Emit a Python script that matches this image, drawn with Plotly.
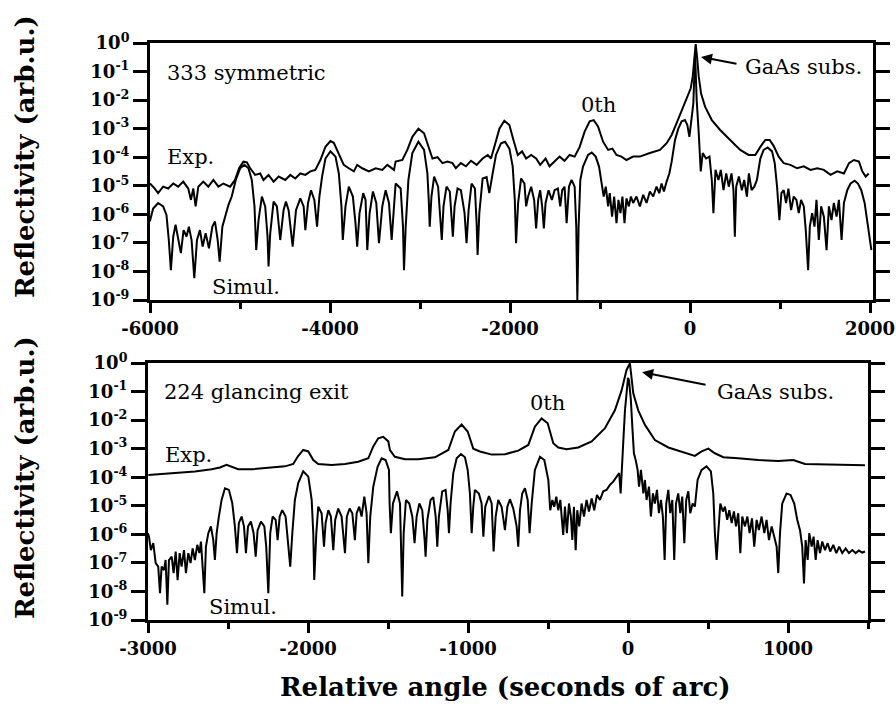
import plotly.graph_objects as go

# ---------------- 333 symmetric reflection ----------------
sym_exp_x = [-6000, -5947, -5910, -5854, -5798, -5742, -5687, -5631, -5575, -5545, -5519, -5493, -5463,
             -5408, -5352, -5296, -5240, -5185, -5110, -5055, -5010, -4962, -4924, -4887, -4832, -4776,
             -4739, -4683, -4627, -4571, -4497, -4441, -4386, -4330, -4274, -4218, -4163, -4107, -4051,
             -3995, -3958, -3910, -3847, -3791, -3735, -3698, -3642, -3568, -3493, -3419, -3363, -3289,
             -3271, -3196, -3141, -3085, -3018, -2955, -2906, -2862, -2806, -2750, -2695, -2639, -2602,
             -2546, -2490, -2434, -2371, -2304, -2248, -2211, -2163, -2118, -2063, -2007, -1962, -1914,
             -1866, -1821, -1765, -1710, -1665, -1605, -1561, -1505, -1449, -1394, -1338, -1282, -1226,
             -1171, -1115, -1070, -1022, -966, -910, -862, -817, -762, -706, -632, -557, -446, -334, -260,
             -204, -149, -93, -37, 8, 30, 48, 63, 78, 97, 123, 167, 242, 335, 446, 558, 651, 725, 781, 836,
             885, 929, 985, 1041, 1115, 1190, 1264, 1338, 1413, 1487, 1561, 1636, 1710, 1766, 1821, 1877,
             1914, 1952, 1985]
sym_exp_y = [1.2e-5, 8e-6, 5.5e-6, 9.3e-6, 8e-6, 1.2e-5, 9.3e-6, 1.4e-5, 8e-6, 3.2e-6, 8e-6, 1.9e-6, 9.3e-6,
             1.4e-5, 9.3e-6, 1.6e-5, 9.3e-6, 1.2e-5, 9.3e-6, 1.6e-5, 4.1e-5, 7e-5, 6.6e-5, 4.1e-5, 2.4e-5,
             2.7e-5, 1.6e-5, 2.4e-5, 1.4e-5, 2.1e-5, 1.6e-5, 2.4e-5, 1.8e-5, 2.7e-5, 2.4e-5, 3.2e-5,
             3.6e-5, 8e-5, 2.3e-4, 3.7e-4, 3.2e-4, 1.4e-4, 5.4e-5, 4.1e-5, 3.2e-5, 5.4e-5, 4.1e-5, 3.2e-5,
             4.1e-5, 3.6e-5, 5.4e-5, 3.6e-5, 7e-5, 8e-5, 1.8e-4, 5.2e-4, 1.0e-3, 6.9e-4, 2.3e-4, 9e-5,
             1e-4, 6.2e-5, 7e-5, 6.2e-5, 4.1e-5, 6.2e-5, 4.8e-5, 7.5e-5, 5.4e-5, 9e-5, 1.2e-4, 9e-5,
             3.1e-4, 1e-3, 1.9e-3, 1.35e-3, 4e-4, 1.2e-4, 1.6e-4, 9e-5, 1.2e-4, 9e-5, 5.4e-5, 9e-5,
             4.8e-5, 7e-5, 1.05e-4, 7.5e-5, 1.2e-4, 1.05e-4, 2.3e-4, 7.9e-4, 1.8e-3, 2e-3, 1.2e-3,
             3.5e-4, 1.8e-4, 2e-4, 1.2e-4, 1.05e-4, 8e-5, 1.05e-4, 1.05e-4, 1.4e-4, 1.8e-4, 3.1e-4,
             6e-4, 1.55e-3, 4.5e-3, 1.15e-2, 2.6e-2, 6.6e-2, 0.33, 0.92, 0.33, 6.6e-2, 1.7e-2, 5.9e-3,
             2e-3, 9e-4, 4e-4, 1.8e-4, 1.2e-4, 1.2e-4, 2.3e-4, 4e-4, 4e-4, 2.5e-4, 1.05e-4, 6.2e-5,
             5.4e-5, 4.1e-5, 4.8e-5, 3.6e-5, 4.1e-5, 3.6e-5, 2.4e-5, 3.2e-5, 2.7e-5, 6.2e-5, 8e-5, 7e-5,
             3.2e-5, 2.1e-5, 2.7e-5]

sym_sim_x = [-6002, -5965, -5910, -5854, -5817, -5791, -5768, -5742, -5716, -5687, -5657, -5627, -5594,
             -5568, -5538, -5508, -5478, -5445, -5415, -5382, -5345, -5307, -5278, -5248, -5226, -5196,
             -5159, -5129, -5092, -5047, -4999, -4951, -4906, -4869, -4839, -4820, -4794, -4757, -4720,
             -4694, -4683, -4664, -4627, -4590, -4553, -4516, -4490, -4460, -4415, -4378, -4330, -4293,
             -4274, -4244, -4211, -4174, -4144, -4118, -4088, -4051, -3995, -3939, -3902, -3873, -3858,
             -3828, -3791, -3746, -3717, -3698, -3672, -3631, -3605, -3586, -3560, -3523, -3486, -3456,
             -3419, -3382, -3345, -3315, -3271, -3215, -3189, -3178, -3159, -3129, -3085, -3018, -2955,
             -2918, -2903, -2892, -2873, -2843, -2799, -2776, -2758, -2739, -2706, -2669, -2650, -2635,
             -2616, -2583, -2546, -2505, -2483, -2460, -2427, -2390, -2371, -2360, -2341, -2304, -2260,
             -2230, -2193, -2156, -2100, -2055, -2007, -1970, -1947, -1933, -1910, -1877, -1840, -1821,
             -1799, -1765, -1732, -1710, -1687, -1665, -1643, -1624, -1605, -1572, -1535, -1505, -1468,
             -1442, -1420, -1394, -1371, -1345, -1316, -1282, -1264, -1252, -1238, -1219, -1189, -1133,
             -1092, -1048, -1011, -985, -959, -936, -910, -892, -866, -843, -817, -795, -773, -751, -728,
             -706, -680, -657, -632, -595, -557, -520, -483, -446, -409, -372, -342, -316, -290, -260,
             -230, -204, -167, -130, -93, -56, -30, -7, 15, 37, 56, 74, 97, 119, 141, 178, 216, 242, 260,
             283, 316, 342, 372, 402, 431, 461, 483, 498, 513, 543, 576, 602, 632, 654, 684, 714, 743,
             781, 818, 863, 911, 941, 967, 993, 1015, 1041, 1067, 1093, 1123, 1152, 1182, 1208, 1234,
             1264, 1286, 1312, 1331, 1357, 1383, 1405, 1431, 1457, 1487, 1517, 1543, 1572, 1598, 1628,
             1654, 1684, 1710, 1747, 1784, 1829, 1866, 1903, 1940, 1970, 1996, 2015]
sym_sim_y = [5.6e-7, 1.6e-6, 2.5e-6, 1.9e-6, 9.5e-7, 1.26e-7, 1.1e-8, 1.66e-7, 4.3e-7, 1.26e-7, 4.4e-8,
             2.8e-7, 1.66e-7, 3.7e-7, 1.26e-7, 5.8e-9, 1.26e-7, 2.8e-7, 7.4e-8, 2.2e-7, 6.5e-8, 3.7e-7,
             5.6e-7, 1.26e-7, 2.2e-8, 3.7e-7, 1.1e-6, 2.1e-6, 4.2e-6, 1.6e-5, 4.1e-5, 5.4e-5, 4.1e-5,
             1.6e-5, 1.9e-6, 5.6e-8, 6.3e-7, 4.2e-6, 1.9e-6, 1.66e-7, 1.5e-8, 2.2e-7, 2.8e-6, 1.9e-6,
             1.26e-7, 1.4e-6, 2.8e-6, 1.4e-6, 7.4e-8, 1.4e-6, 3.6e-6, 1.9e-6, 2.8e-7, 2.5e-6, 7e-6,
             3.2e-6, 3.7e-7, 4.2e-6, 2.1e-5, 9e-5, 1.6e-4, 1.05e-4, 2.7e-5, 1.9e-6, 1.26e-7, 1.9e-6,
             9.3e-6, 4.2e-6, 4.9e-7, 7.4e-8, 1.1e-6, 5.5e-6, 3.2e-6, 5.6e-8, 1.1e-6, 6.3e-6, 2.5e-6,
             9.8e-8, 1.9e-6, 7e-6, 2.5e-6, 1.26e-7, 1.2e-5, 8e-6, 3.7e-7, 1.1e-8, 3.7e-7, 1.6e-5,
             1.4e-4, 3.5e-4, 1.8e-4, 2.7e-5, 3.2e-6, 3.7e-7, 4.2e-6, 2.1e-5, 9.3e-6, 1.1e-6, 1.26e-7,
             1.9e-6, 9.3e-6, 6.3e-6, 1.1e-6, 1.66e-7, 1.9e-6, 8e-6, 7e-6, 1.1e-6, 9.8e-8, 1.4e-6,
             1.2e-5, 8e-6, 4.9e-7, 3.8e-8, 1.1e-6, 1.8e-5, 2e-5, 5.5e-6, 2.7e-5, 1.2e-4, 3.1e-4,
             3.5e-4, 2e-4, 4.7e-5, 3.2e-6, 9.8e-8, 2.5e-6, 1.8e-5, 1.2e-5, 1.9e-6, 4.2e-6, 9.3e-6,
             3.2e-6, 3.2e-7, 3.2e-6, 7e-6, 1.9e-6, 3.2e-7, 2.5e-6, 7e-6, 3.2e-6, 7e-6, 8e-6, 1.9e-6,
             7e-6, 9.3e-6, 4.9e-7, 9.3e-6, 1.6e-5, 9.3e-6, 3.7e-7, 1.0e-9, 3.7e-7, 1.6e-5, 4.7e-5,
             1.2e-4, 1.45e-4, 1.05e-4, 4.7e-5, 1.2e-5, 4.2e-6, 9.3e-6, 1.9e-6, 5.5e-6, 8.3e-7, 4.2e-6,
             4.9e-7, 3.2e-6, 1.1e-6, 4.2e-6, 4.9e-7, 3.6e-6, 1.9e-6, 4.2e-6, 2.5e-6, 4.2e-6, 1.9e-6,
             4.8e-6, 2.5e-6, 6.3e-6, 4.2e-6, 9.3e-6, 5.5e-6, 1.2e-5, 6.3e-6, 1.4e-5, 2.7e-5, 7e-5,
             4e-4, 1.0e-3, 1.8e-3, 2e-3, 1.35e-3, 5.2e-4, 2.6e-3, 7.7e-3, 0.44, 1e-2, 6.9e-4, 3.2e-5,
             1.4e-4, 9e-5, 1.05e-4, 1.6e-5, 1.1e-6, 3.6e-5, 1.6e-5, 3.6e-5, 7e-6, 2.7e-5, 9.3e-6,
             2.7e-5, 7e-6, 1.66e-7, 9.3e-6, 2.1e-5, 7e-6, 1.6e-5, 4.2e-6, 2.7e-5, 7e-6, 9.3e-6, 1.6e-5,
             9e-5, 1.8e-4, 2.2e-4, 1.6e-4, 6.2e-5, 9.3e-6, 6.3e-7, 5.5e-6, 7e-6, 2.5e-6, 8e-6, 1.4e-6,
             4.2e-6, 3.2e-6, 1.1e-6, 3.2e-6, 1.9e-6, 2.8e-7, 1.1e-8, 3.7e-7, 1.1e-6, 3.7e-7, 3.2e-6,
             1.26e-7, 1.9e-6, 8.3e-7, 5.6e-8, 1.9e-6, 6.3e-7, 2.5e-6, 8.3e-7, 3.2e-6, 1.26e-7, 2.5e-6,
             7e-6, 1.2e-5, 1.5e-5, 1.2e-5, 7e-6, 2.5e-6, 6.3e-7, 1.66e-7, 5.6e-8]

# ---------------- 224 glancing exit reflection ----------------
gla_exp_x = [-2998, -2915, -2811, -2707, -2602, -2550, -2509, -2473, -2436, -2352, -2248, -2144, -2092,
             -2065, -2030, -1998, -1967, -1936, -1852, -1769, -1686, -1623, -1592, -1561, -1530, -1498,
             -1488, -1457, -1394, -1311, -1207, -1123, -1082, -1040, -1002, -967, -925, -852, -769, -686,
             -623, -582, -540, -502, -467, -436, -384, -311, -227, -144, -82, -40, -9, 12, 33, 64, 106,
             168, 252, 335, 418, 460, 502, 543, 596, 689, 814, 939, 1033, 1106, 1231, 1356, 1481]
gla_exp_y = [1.2e-4, 1.3e-4, 1.4e-4, 1.6e-4, 1.9e-4, 2.2e-4, 2.7e-4, 2.2e-4, 1.9e-4, 1.9e-4, 2.2e-4,
             2.4e-4, 2.9e-4, 5.2e-4, 9e-4, 8e-4, 4e-4, 2.9e-4, 2.7e-4, 2.9e-4, 3.5e-4, 4.6e-4, 1.2e-3,
             2.3e-3, 2.6e-3, 1.8e-3, 9e-4, 5.2e-4, 4.3e-4, 4.3e-4, 5e-4, 9e-4, 4e-3, 7e-3, 4e-3, 1e-3,
             8e-4, 6.2e-4, 6.4e-4, 8.5e-4, 1.35e-3, 5.9e-3, 1.15e-2, 7.7e-3, 1.55e-3, 1.1e-3, 9.6e-4,
             1.1e-3, 1.8e-3, 5.2e-3, 2.2e-2, 0.11, 0.57, 0.97, 8.7e-2, 2.2e-2, 6.8e-3, 2e-3, 1.1e-3,
             8e-4, 5.6e-4, 8e-4, 1e-3, 6.9e-4, 5e-4, 4.6e-4, 4e-4, 3.7e-4, 4e-4, 2.9e-4, 2.8e-4, 2.7e-4,
             2.6e-4]

gla_sim_x = [-3000, -2994, -2982, -2967, -2952, -2936, -2925, -2915, -2900, -2890, -2879, -2869, -2852,
             -2840, -2827, -2815, -2802, -2790, -2775, -2763, -2748, -2734, -2721, -2707, -2692, -2679,
             -2669, -2659, -2648, -2638, -2623, -2607, -2592, -2582, -2571, -2557, -2540, -2519, -2494,
             -2473, -2457, -2444, -2432, -2415, -2400, -2388, -2375, -2357, -2340, -2327, -2315, -2294,
             -2273, -2261, -2248, -2236, -2221, -2202, -2190, -2177, -2161, -2140, -2123, -2111, -2098,
             -2082, -2061, -2030, -1998, -1977, -1967, -1961, -1948, -1936, -1915, -1900, -1890, -1873,
             -1857, -1842, -1830, -1811, -1790, -1769, -1757, -1740, -1723, -1707, -1696, -1680, -1665,
             -1648, -1634, -1623, -1611, -1592, -1565, -1540, -1515, -1494, -1490, -1482, -1469, -1444,
             -1425, -1417, -1411, -1402, -1388, -1367, -1348, -1334, -1321, -1304, -1286, -1271, -1265,
             -1254, -1234, -1217, -1202, -1192, -1182, -1161, -1140, -1127, -1119, -1109, -1092, -1071,
             -1044, -1019, -1002, -988, -977, -967, -957, -932, -915, -904, -892, -869, -852, -840, -827,
             -811, -790, -769, -754, -738, -717, -696, -686, -675, -661, -644, -627, -615, -602, -582,
             -550, -523, -498, -486, -473, -461, -448, -436, -423, -413, -405, -394, -382, -369, -357,
             -348, -338, -327, -317, -305, -290, -275, -259, -244, -227, -211, -194, -175, -155, -134,
             -113, -92, -71, -55, -46, -40, -30, -19, 0, 6, 18, 27, 37, 48, 60, 69, 81, 96, 106, 116, 131,
             143, 156, 168, 181, 193, 206, 218, 229, 239, 252, 264, 277, 289, 300, 314, 327, 339, 352,
             364, 377, 389, 404, 418, 435, 460, 491, 518, 533, 543, 554, 564, 577, 593, 606, 620, 633,
             648, 662, 675, 689, 702, 714, 731, 746, 760, 775, 789, 804, 818, 835, 852, 866, 881, 898,
             914, 929, 939, 950, 964, 991, 1016, 1039, 1058, 1075, 1089, 1100, 1110, 1123, 1133, 1148,
             1160, 1173, 1185, 1200, 1214, 1231, 1248, 1264, 1283, 1302, 1320, 1339, 1360, 1381, 1402,
             1423, 1443, 1464, 1481]
gla_sim_y = [1.1e-6, 8.3e-7, 2.8e-7, 4.9e-7, 9.8e-8, 7.4e-8, 8.7e-9, 7.4e-8, 5.6e-8, 1.26e-7, 3.4e-9,
             1.26e-7, 1.66e-7, 4.4e-8, 2.5e-7, 2.5e-8, 2.2e-7, 7.4e-8, 2.8e-7, 4.4e-8, 2.2e-7, 9.8e-8,
             3.2e-7, 1.26e-7, 4.3e-7, 2.2e-7, 5.6e-7, 7.4e-8, 8.7e-9, 3.7e-7, 1.1e-6, 1.9e-6, 6.3e-7,
             1.26e-7, 1.1e-6, 4.2e-6, 1.6e-5, 4.1e-5, 3.6e-5, 1.2e-5, 1.9e-6, 2.2e-7, 2.5e-6, 4.2e-6,
             1.9e-6, 2.2e-7, 1.9e-6, 2.8e-6, 1.1e-6, 1.66e-7, 1.4e-6, 2.8e-6, 1.9e-6, 3.7e-7, 8.7e-9,
             1.1e-6, 4.2e-6, 3.2e-6, 6.3e-7, 4.2e-6, 7e-6, 4.2e-6, 3.7e-7, 7.4e-8, 1.1e-6, 1.6e-5,
             6.2e-5, 1.6e-4, 1.05e-4, 1.6e-5, 1.1e-6, 2.5e-8, 1.1e-6, 9.3e-6, 5.5e-6, 3.7e-7, 2.5e-6,
             7e-6, 4.2e-6, 2.8e-7, 3.2e-6, 8e-6, 4.2e-6, 2.2e-7, 4.2e-6, 8e-6, 5.5e-6, 6.3e-7, 5.5e-6,
             9.3e-6, 4.2e-6, 2.1e-5, 5.5e-6, 9.8e-8, 4.2e-6, 4.7e-5, 2.3e-4, 4.6e-4, 4e-4, 1.8e-4,
             1.2e-5, 1.1e-6, 1.2e-5, 3.2e-5, 1.2e-5, 3.7e-7, 6.6e-9, 1.1e-6, 1.6e-5, 1.2e-5, 4.2e-6,
             4.9e-7, 4.2e-6, 1.2e-5, 7e-6, 6.3e-7, 1.66e-7, 3.2e-6, 1.6e-5, 2e-5, 4.2e-6, 3.7e-7,
             4.2e-6, 3.2e-5, 3.6e-5, 7e-6, 1.1e-6, 1.2e-5, 1.4e-4, 4.6e-4, 6.5e-4, 5e-4, 1.8e-4, 2.7e-5,
             1.1e-6, 9.3e-6, 3.6e-5, 2.7e-5, 1.2e-5, 8.3e-7, 9.3e-6, 2.2e-5, 1.2e-5, 2.5e-7, 4.2e-6,
             1.6e-5, 9.3e-6, 1.4e-6, 9.3e-6, 1.7e-5, 8e-6, 1.9e-6, 3.7e-7, 7e-6, 2.7e-5, 4.1e-5, 1.6e-5,
             1.1e-6, 1.2e-5, 1.8e-4, 5.2e-4, 4e-4, 8e-5, 7e-6, 1.6e-5, 9.3e-6, 2.1e-5, 7e-6, 1.6e-5,
             3.2e-6, 9.5e-7, 9.3e-6, 1.1e-6, 1.2e-5, 4.2e-6, 6.3e-7, 9.3e-6, 2.8e-7, 7e-6, 1.9e-6,
             1.2e-5, 4.2e-6, 1.6e-5, 6.3e-6, 1.8e-5, 7e-6, 2.4e-5, 1.6e-5, 3.2e-5, 3.6e-5, 5.4e-5, 7e-5,
             1.05e-4, 1.4e-4, 2.7e-5, 1.8e-4, 1.55e-3, 2.2e-2, 0.3, 0.25, 5e-2, 5.9e-3, 6.9e-4, 4e-4,
             1.8e-4, 4.7e-5, 1.8e-4, 2.7e-5, 8e-5, 1.6e-5, 4.7e-5, 4.2e-6, 2.7e-5, 1.2e-5, 3.6e-5,
             5.5e-6, 1.6e-5, 4.2e-6, 1.26e-7, 1.2e-5, 3.6e-5, 5.5e-6, 1.6e-5, 1.26e-7, 1.2e-5, 2.7e-5,
             5.5e-6, 2.1e-5, 4.9e-7, 1.6e-5, 3.2e-5, 5.5e-6, 1.2e-5, 9.3e-6, 8e-5, 1.8e-4, 2.4e-4,
             1.6e-4, 2.7e-5, 1.1e-6, 1.26e-7, 1.1e-6, 1.2e-5, 6.3e-6, 9.3e-6, 3.2e-6, 7e-6, 2.5e-6,
             6.3e-6, 1.9e-6, 5.5e-6, 2.2e-7, 4.2e-6, 1.9e-6, 4.2e-6, 1.1e-6, 3.6e-6, 3.7e-7, 3.2e-6,
             1.4e-6, 4.2e-6, 1.1e-6, 3.2e-6, 6.3e-7, 1.9e-6, 8.3e-7, 3.7e-7, 4.4e-8, 1.1e-6, 1.2e-5,
             2.7e-5, 2.4e-5, 1.2e-5, 3.2e-6, 1.4e-6, 3.7e-7, 1.9e-8, 6.3e-7, 1.26e-7, 1.1e-6, 3.7e-7,
             8.3e-7, 1.26e-7, 6.3e-7, 2.2e-7, 5.6e-7, 2.8e-7, 4.9e-7, 2.5e-7, 4.3e-7, 2.2e-7, 3.7e-7,
             2.2e-7, 3.2e-7, 2.2e-7, 2.8e-7, 2.2e-7, 2.7e-7, 2.3e-7, 2.5e-7]

# log-axis decades and their labels
decades = [1e-9, 1e-8, 1e-7, 1e-6, 1e-5, 1e-4, 1e-3, 1e-2, 1e-1, 1e0]
decade_labels = ["10<sup>-9</sup>", "10<sup>-8</sup>", "10<sup>-7</sup>", "10<sup>-6</sup>",
                 "10<sup>-5</sup>", "10<sup>-4</sup>", "10<sup>-3</sup>", "10<sup>-2</sup>",
                 "10<sup>-1</sup>", "10<sup>0</sup>"]

# angle tick labels (plain hyphen as minus sign)
sym_ticks = [-6000, -4000, -2000, 0, 2000]
sym_tick_labels = ["-6000", "-4000", "-2000", "0", "2000"]
gla_ticks = [-3000, -2000, -1000, 0, 1000]
gla_tick_labels = ["-3000", "-2000", "-1000", "0", "1000"]

FONT = "DejaVu Serif"
W, H = 896, 707

fig = go.Figure()
line = dict(color="black", width=2)
fig.add_trace(go.Scatter(x=sym_exp_x, y=sym_exp_y, mode="lines", line=line, xaxis="x", yaxis="y",
                         name="Exp. 333"))
fig.add_trace(go.Scatter(x=sym_sim_x, y=sym_sim_y, mode="lines", line=line, xaxis="x", yaxis="y",
                         name="Simul. 333"))
fig.add_trace(go.Scatter(x=gla_exp_x, y=gla_exp_y, mode="lines", line=line, xaxis="x2", yaxis="y2",
                         name="Exp. 224"))
fig.add_trace(go.Scatter(x=gla_sim_x, y=gla_sim_y, mode="lines", line=line, xaxis="x2", yaxis="y2",
                         name="Simul. 224"))

tickfont = dict(family=FONT, size=18, color="black", weight="bold")


def px_x(p):
    return p / W


def px_y(p):
    return 1 - p / H


top_dom_x = [px_x(150), px_x(873)]
top_dom_y = [px_y(300), px_y(43)]
bot_dom_x = [px_x(148), px_x(868)]
bot_dom_y = [px_y(620), px_y(363)]

xcommon = dict(showgrid=False, zeroline=False, showline=True, linecolor="black", linewidth=3,
               ticks="outside", tickwidth=2.5, tickcolor="black", ticklen=10, mirror=True,
               tickfont=tickfont, tickmode="array", automargin=False)
ycommon = dict(type="log", range=[-9, 0], showgrid=False, zeroline=False, showline=True,
               linecolor="black", linewidth=3, ticks="outside", tickwidth=2.5, ticklen=14,
               tickcolor="black", mirror="ticks", tickmode="array", tickvals=decades,
               ticktext=decade_labels, tickfont=tickfont, automargin=False)
topcommon = dict(side="top", showline=False, showgrid=False, zeroline=False, showticklabels=False,
                 ticks="inside", ticklen=9, tickwidth=2.5, tickcolor="black", tickmode="linear",
                 automargin=False)

fig.update_layout(
    template="none",
    width=W, height=H, margin=dict(l=0, r=0, t=0, b=0, pad=0),
    paper_bgcolor="white", plot_bgcolor="white", showlegend=False,
    xaxis=dict(xcommon, domain=top_dom_x, range=[-6000, 2033], anchor="y",
               tickvals=sym_ticks, ticktext=sym_tick_labels,
               minor=dict(tickmode="linear", dtick=1000, tick0=-6000, ticks="outside", ticklen=6,
                          tickwidth=2.5, tickcolor="black")),
    yaxis=dict(ycommon, domain=top_dom_y, anchor="x"),
    xaxis2=dict(xcommon, domain=bot_dom_x, range=[-3000, 1500], anchor="y2",
                tickvals=gla_ticks, ticktext=gla_tick_labels,
                minor=dict(tickmode="linear", dtick=500, tick0=-3000, ticks="outside", ticklen=6,
                           tickwidth=2.5, tickcolor="black")),
    yaxis2=dict(ycommon, domain=bot_dom_y, anchor="x2"),
    # inward ticks along the top edge of each panel
    xaxis3=dict(topcommon, overlaying="x", anchor="y", range=[-6000, 2033], tick0=-6000, dtick=2000,
                minor=dict(dtick=1000, tick0=-6000, ticks="inside", ticklen=6, tickwidth=2.5,
                           tickcolor="black")),
    xaxis4=dict(topcommon, overlaying="x2", anchor="y2", range=[-3000, 1500], tick0=-3000, dtick=1000,
                minor=dict(dtick=500, tick0=-3000, ticks="inside", ticklen=6, tickwidth=2.5,
                           tickcolor="black")),
)

lab = dict(family=FONT, size=21, color="black")
ann = []


def text(x, y, s, xref, yref, xanchor="left", size=21):
    ann.append(dict(x=x, y=y, text=s, xref=xref, yref=yref, showarrow=False, xanchor=xanchor,
                    yanchor="middle", font=dict(lab, size=size)))


# panel captions (y given in log10 units on the log axes)
text(-5833, -1.05, "333 symmetric", "x", "y")
text(-5833, -3.99, "Exp.", "x", "y")
text(-5333, -8.54, "Simul.", "x", "y")
text(-1022, -2.17, "0th", "x", "y", xanchor="center")
text(589, -0.84, "GaAs subs.", "x", "y")
text(-2912, -1.02, "224 glancing exit", "x2", "y2")
text(-2906, -3.22, "Exp.", "x2", "y2")
text(-2631, -8.54, "Simul.", "x2", "y2")
text(-506, -1.40, "0th", "x2", "y2", xanchor="center")
text(544, -1.02, "GaAs subs.", "x2", "y2")

# arrows pointing at the substrate peaks
ann.append(dict(x=122, y=-0.49, ax=533, ay=-0.74, xref="x", yref="y", axref="x", ayref="y",
                text="", showarrow=True, arrowhead=2, arrowsize=1.1, arrowwidth=2, arrowcolor="black"))
ann.append(dict(x=88, y=-0.32, ax=494, ay=-0.77, xref="x2", yref="y2", axref="x2", ayref="y2",
                text="", showarrow=True, arrowhead=2, arrowsize=1.1, arrowwidth=2, arrowcolor="black"))

# axis titles
ttl = dict(family=FONT, size=26, color="black", weight="bold")
ann.append(dict(x=px_x(25), y=px_y(157), xref="paper", yref="paper", text="Reflectivity (arb.u.)",
                textangle=-90, showarrow=False, font=ttl, xanchor="center", yanchor="middle"))
ann.append(dict(x=px_x(25), y=px_y(478), xref="paper", yref="paper", text="Reflectivity (arb.u.)",
                textangle=-90, showarrow=False, font=ttl, xanchor="center", yanchor="middle"))
ann.append(dict(x=px_x(505), y=px_y(687), xref="paper", yref="paper",
                text="Relative angle (seconds of arc)", showarrow=False, font=ttl,
                xanchor="center", yanchor="middle"))

fig.update_layout(annotations=ann)
fig.write_html("out.html")
